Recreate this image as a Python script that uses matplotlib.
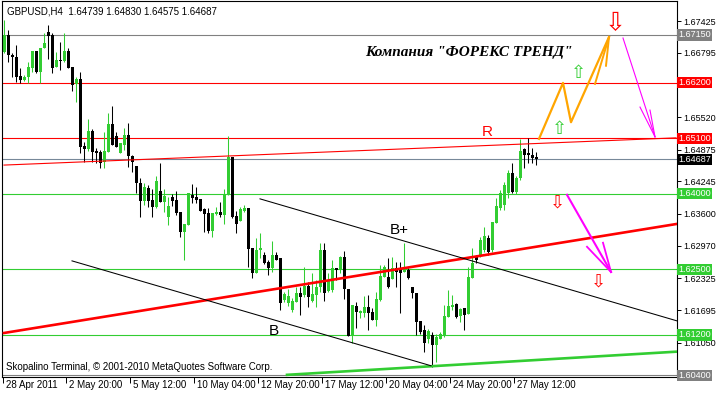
import matplotlib
matplotlib.use("Agg")
import matplotlib.pyplot as plt
import numpy as np

plt.rcParams["font.family"] = ["Liberation Sans", "DejaVu Sans"]

# --- GBPUSD H4 candles (bar 0 = 28 Apr 2011 04:00) ---
opens = [
    1.6681, 1.6715, 1.6675, 1.6671, 1.6634, 1.6626, 1.6632, 1.6649, 1.6683, 1.6641,
    1.6689, 1.6721, 1.6715, 1.6651, 1.6665, 1.6663, 1.6683, 1.6651, 1.6618, 1.6628,
    1.6495, 1.6489, 1.6525, 1.6485, 1.6483, 1.6463, 1.6483, 1.6539, 1.6515, 1.6481,
    1.6497, 1.6517, 1.6475, 1.6455, 1.6421, 1.6386, 1.6411, 1.6388, 1.6374, 1.6405,
    1.6384, 1.6354, 1.6393, 1.6388, 1.6364, 1.6324, 1.6338, 1.6397, 1.6393, 1.6390,
    1.6370, 1.6362, 1.6326, 1.6360, 1.6364, 1.6358, 1.6397, 1.6473, 1.6356, 1.6346,
    1.6366, 1.6372, 1.6293, 1.6243, 1.6289, 1.6279, 1.6265, 1.6253, 1.6279, 1.6273,
    1.6190, 1.6184, 1.6170, 1.6186, 1.6204, 1.6200, 1.6218, 1.6188, 1.6200, 1.6216,
    1.6289, 1.6208, 1.6210, 1.6253, 1.6249, 1.6275, 1.6212, 1.6118, 1.6178, 1.6164,
    1.6164, 1.6176, 1.6166, 1.6150, 1.6190, 1.6235, 1.6235, 1.6231, 1.6253, 1.6253,
    1.6245, 1.6249, 1.6216, 1.6204, 1.6148, 1.6130, 1.6112, 1.6120, 1.6100, 1.6112,
    1.6120, 1.6156, 1.6176, 1.6182, 1.6158, 1.6174, 1.6162, 1.6233, 1.6277, 1.6277,
    1.6289, 1.6312, 1.6289, 1.6342, 1.6372, 1.6378, 1.6401, 1.6441, 1.6403, 1.6431,
    1.6489, 1.6481, 1.6477, 1.64739,
]
highs = [
    1.6744, 1.6725, 1.6679, 1.6695, 1.6649, 1.6636, 1.6661, 1.6683, 1.6683, 1.6689,
    1.6719, 1.6735, 1.6719, 1.6681, 1.6701, 1.6719, 1.6689, 1.6651, 1.6632, 1.6642,
    1.6503, 1.6548, 1.6529, 1.6491, 1.6487, 1.6523, 1.6560, 1.6574, 1.6523, 1.6501,
    1.6531, 1.6541, 1.6477, 1.6455, 1.6431, 1.6421, 1.6417, 1.6409, 1.6435, 1.6461,
    1.6409, 1.6393, 1.6399, 1.6405, 1.6364, 1.6340, 1.6401, 1.6419, 1.6413, 1.6390,
    1.6372, 1.6372, 1.6362, 1.6374, 1.6384, 1.6409, 1.6515, 1.6473, 1.6366, 1.6374,
    1.6378, 1.6372, 1.6293, 1.6312, 1.6322, 1.6285, 1.6269, 1.6306, 1.6285, 1.6273,
    1.6206, 1.6212, 1.6194, 1.6216, 1.6216, 1.6255, 1.6225, 1.6243, 1.6229, 1.6302,
    1.6302, 1.6243, 1.6269, 1.6253, 1.6277, 1.6287, 1.6212, 1.6180, 1.6186, 1.6170,
    1.6198, 1.6200, 1.6174, 1.6206, 1.6259, 1.6259, 1.6273, 1.6275, 1.6265, 1.6265,
    1.6302, 1.6253, 1.6216, 1.6204, 1.6148, 1.6140, 1.6132, 1.6126, 1.6122, 1.6126,
    1.6180, 1.6210, 1.6200, 1.6184, 1.6174, 1.6174, 1.6255, 1.6293, 1.6279, 1.6314,
    1.6334, 1.6318, 1.6344, 1.6392, 1.6407, 1.6423, 1.6447, 1.6461, 1.6435, 1.6509,
    1.6491, 1.6511, 1.6491, 1.64830,
]
lows = [
    1.6679, 1.6661, 1.6632, 1.6622, 1.6620, 1.6624, 1.6620, 1.6641, 1.6640, 1.6620,
    1.6689, 1.6667, 1.6640, 1.6651, 1.6645, 1.6661, 1.6649, 1.6604, 1.6582, 1.6481,
    1.6463, 1.6485, 1.6463, 1.6461, 1.6451, 1.6451, 1.6483, 1.6497, 1.6493, 1.6481,
    1.6487, 1.6453, 1.6443, 1.6401, 1.6354, 1.6378, 1.6374, 1.6354, 1.6372, 1.6384,
    1.6364, 1.6338, 1.6376, 1.6358, 1.6314, 1.6269, 1.6338, 1.6382, 1.6382, 1.6366,
    1.6324, 1.6322, 1.6314, 1.6358, 1.6354, 1.6340, 1.6397, 1.6352, 1.6322, 1.6346,
    1.6364, 1.6255, 1.6233, 1.6243, 1.6273, 1.6261, 1.6239, 1.6245, 1.6269, 1.6170,
    1.6186, 1.6178, 1.6166, 1.6186, 1.6160, 1.6196, 1.6176, 1.6186, 1.6176, 1.6206,
    1.6188, 1.6206, 1.6206, 1.6229, 1.6243, 1.6192, 1.6118, 1.6104, 1.6134, 1.6154,
    1.6156, 1.6130, 1.6150, 1.6138, 1.6188, 1.6235, 1.6214, 1.6231, 1.6216, 1.6164,
    1.6245, 1.6231, 1.6194, 1.6120, 1.6122, 1.6086, 1.6104, 1.6057, 1.6067, 1.6112,
    1.6116, 1.6156, 1.6170, 1.6154, 1.6146, 1.6130, 1.6162, 1.6233, 1.6263, 1.6275,
    1.6285, 1.6279, 1.6285, 1.6342, 1.6368, 1.6368, 1.6392, 1.6401, 1.6399, 1.6427,
    1.6451, 1.6461, 1.6461, 1.64575,
]
closes = [
    1.6715, 1.6675, 1.6671, 1.6632, 1.6626, 1.6632, 1.6651, 1.6683, 1.6641, 1.6689,
    1.6699, 1.6713, 1.6649, 1.6665, 1.6663, 1.6683, 1.6649, 1.6616, 1.6628, 1.6493,
    1.6489, 1.6525, 1.6483, 1.6481, 1.6461, 1.6485, 1.6539, 1.6497, 1.6493, 1.6501,
    1.6517, 1.6475, 1.6463, 1.6421, 1.6386, 1.6413, 1.6386, 1.6374, 1.6425, 1.6384,
    1.6395, 1.6376, 1.6386, 1.6362, 1.6324, 1.6340, 1.6401, 1.6392, 1.6388, 1.6366,
    1.6360, 1.6326, 1.6362, 1.6364, 1.6358, 1.6399, 1.6473, 1.6354, 1.6340, 1.6370,
    1.6372, 1.6291, 1.6243, 1.6289, 1.6293, 1.6263, 1.6253, 1.6279, 1.6269, 1.6184,
    1.6202, 1.6198, 1.6188, 1.6204, 1.6196, 1.6218, 1.6196, 1.6202, 1.6216, 1.6289,
    1.6204, 1.6227, 1.6253, 1.6249, 1.6275, 1.6212, 1.6118, 1.6180, 1.6166, 1.6168,
    1.6176, 1.6164, 1.6150, 1.6192, 1.6237, 1.6255, 1.6216, 1.6253, 1.6245, 1.6243,
    1.6253, 1.6233, 1.6204, 1.6146, 1.6126, 1.6104, 1.6128, 1.6100, 1.6116, 1.6122,
    1.6158, 1.6178, 1.6180, 1.6156, 1.6172, 1.6160, 1.6235, 1.6263, 1.6269, 1.6308,
    1.6316, 1.6285, 1.6344, 1.6376, 1.6401, 1.6417, 1.6441, 1.6403, 1.6431, 1.6485,
    1.6477, 1.6477, 1.6471, 1.64687,
]

time_ticks = [0, 16, 32, 48, 64, 80, 96, 112, 128]
time_labels = ["28 Apr 2011", "2 May 20:00", "5 May 12:00", "10 May 04:00",
               "12 May 20:00", "17 May 12:00", "20 May 04:00", "24 May 20:00",
               "27 May 12:00"]
price_ticks = [1.67425, 1.66795, 1.65520, 1.64875, 1.64245,
               1.63600, 1.62970, 1.62325, 1.61695, 1.61050]

# horizontal levels and their price boxes
levels = [1.6715, 1.6620, 1.6510, 1.64687, 1.6400, 1.6250, 1.6120, 1.6040]
level_colors = ["#808080", "#FF0000", "#FF0000", "#778899",
                "#32CD32", "#32CD32", "#32CD32", "#808080"]
box_colors = ["#808080", "#FF0000", "#FF0000", "#000000",
              "#32CD32", "#32CD32", "#32CD32", "#808080"]

# trend lines (bar, price)
red_thin = ([0, 168], [1.6457, 1.6511])
red_thick = ([0, 168], [1.6124, 1.6340])
green_thick = ([70.75, 168.25], [1.6041, 1.6087])
channel_top = ([64, 168.25], [1.6390, 1.6148])
channel_bot = ([17, 106.75], [1.6267, 1.6059])

# forecast paths
orange_path = ([133.75, 139.75, 141.75, 151.25], [1.6509, 1.6620, 1.6542, 1.6711])
orange_head = ([147.75, 150.5], [1.6618, 1.6654])
magenta_a = ([154.75, 162.75], [1.6709, 1.6513])
magenta_a_head = ([159.0, 161.5], [1.6572, 1.6566])
magenta_b = ([140.75, 151.75], [1.6398, 1.6245])
magenta_b_head = ([145.75, 149.75], [1.6295, 1.6303])

GREEN = "#32CD32"
W, H = 716, 393

fig = plt.figure(figsize=(W / 100, H / 100), dpi=100)
fig.patch.set_facecolor("white")
ax = fig.add_axes([2 / W, 16 / H, 675 / W, 376 / H])
ax.set_facecolor("white")
ax.set_xlim(-0.5, 168.25)
ax.set_ylim(1.60367, 1.67824)

# --- levels ---
for p, col in zip(levels, level_colors):
    ax.axhline(p, color=col, linewidth=0.8, zorder=1)

# --- candles ---
o = np.array(opens)
hi = np.array(highs)
lo = np.array(lows)
c = np.array(closes)
x = np.arange(len(o))
cols = np.where(c >= o, GREEN, "black")
ax.vlines(x, lo, hi, colors=cols, linewidth=0.75, zorder=2)
body_h = np.maximum(np.abs(c - o), 0.00014)
ax.bar(x, body_h, bottom=np.minimum(o, c), width=0.75, color=cols,
       linewidth=0, zorder=2)

# --- trend lines ---
ax.plot(*red_thin, color="#FF0000", linewidth=0.8, zorder=3)
ax.plot(*red_thick, color="#FF0000", linewidth=1.9, zorder=3)
ax.plot(*green_thick, color=GREEN, linewidth=1.9, zorder=3)
ax.plot(*channel_top, color="black", linewidth=0.75, zorder=3)
ax.plot(*channel_bot, color="black", linewidth=0.75, zorder=3)

# --- forecast arrows ---
ax.plot(*orange_path, color="#FFA500", linewidth=1.6, zorder=4)
tip_x, tip_y = orange_path[0][-1], orange_path[1][-1]
for bx, by in zip(*orange_head):
    ax.plot([bx, tip_x], [by, tip_y], color="#FFA500", linewidth=1.4, zorder=4)

ax.plot(*magenta_a, color="#FF00FF", linewidth=0.8, zorder=4)
for bx, by in zip(*magenta_a_head):
    ax.plot([bx, magenta_a[0][1]], [by, magenta_a[1][1]], color="#FF00FF",
            linewidth=0.8, zorder=4)
ax.plot(*magenta_b, color="#FF00FF", linewidth=1.5, zorder=4)
for bx, by in zip(*magenta_b_head):
    ax.plot([bx, magenta_b[0][1]], [by, magenta_b[1][1]], color="#FF00FF",
            linewidth=1.3, zorder=4)

# hollow arrow symbols
ax.text(152.75, 1.6739, "\u21e9", color="#FF0000", fontsize=18, ha="center",
        va="center", family="DejaVu Sans", zorder=5)
for bx, by in [(143.5, 1.6640), (138.75, 1.6529)]:
    ax.text(bx, by, "\u21e7", color=GREEN, fontsize=13, ha="center",
            va="center", family="DejaVu Sans", zorder=5)
for bx, by in [(138.25, 1.6382), (148.5, 1.6227)]:
    ax.text(bx, by, "\u21e9", color="#FF0000", fontsize=13, ha="center",
            va="center", family="DejaVu Sans", zorder=5)

# --- labels on the chart ---
ax.text(120.75, 1.6523, "R", color="#FF0000", fontsize=11, ha="center", va="center")
ax.text(98.75, 1.6328, "B+", color="black", fontsize=11, ha="center", va="center")
ax.text(67.5, 1.6128, "B", color="black", fontsize=11, ha="center", va="center")
ax.text(116.25, 1.6681, "Компания \"ФОРЕКС ТРЕНД\"", family="Liberation Serif",
        style="italic", weight="bold", fontsize=11, ha="center", va="center")

ax.text(5 / 675, 1 - 10 / 376, "GBPUSD,H4  1.64739 1.64830 1.64575 1.64687",
        transform=ax.transAxes, fontsize=7, ha="left", va="center")
ax.text(4 / 675, 1 - 366.5 / 376,
        "Skopalino Terminal, \u00a9 2001-2010 MetaQuotes Software Corp.",
        transform=ax.transAxes, fontsize=7, ha="left", va="center")

# --- axes ---
for s in ax.spines.values():
    s.set_color("black")
    s.set_linewidth(0.8)

ax.yaxis.tick_right()
ax.set_yticks(price_ticks)
ax.set_yticklabels([f"{t:.5f}" for t in price_ticks])
ax.tick_params(axis="y", direction="out", length=3, width=0.7, pad=1.2,
               labelsize=6.5, colors="black")

tick_pos = [-0.2] + [t - 0.55 for t in time_ticks[1:]]
ax.set_xticks(tick_pos)
ax.set_xticklabels([])
ax.tick_params(axis="x", direction="out", length=4, width=0.7)
xt = ax.get_xaxis_transform()
for pos, lab in zip(tick_pos, time_labels):
    ax.text(pos + 0.7, -8.5 / 376, lab, transform=xt, fontsize=7,
            ha="left", va="center")

# price boxes at the right edge, clipped to the chart height
clip = plt.Rectangle((677 / W, 16 / H), 39 / W, 377 / H, transform=fig.transFigure)
yt = ax.get_yaxis_transform()
for p, bc in zip(levels, box_colors):
    t = ax.text(1 + 1.2 / 675, p, f"{p:.5f}", transform=yt, fontsize=6.5,
                color="white", ha="left", va="center", zorder=6,
                bbox=dict(boxstyle="square,pad=0.12", fc=bc, ec="none"))
    t.set_clip_path(clip)

fig.savefig("out.png", dpi=100)
plt.close(fig)
